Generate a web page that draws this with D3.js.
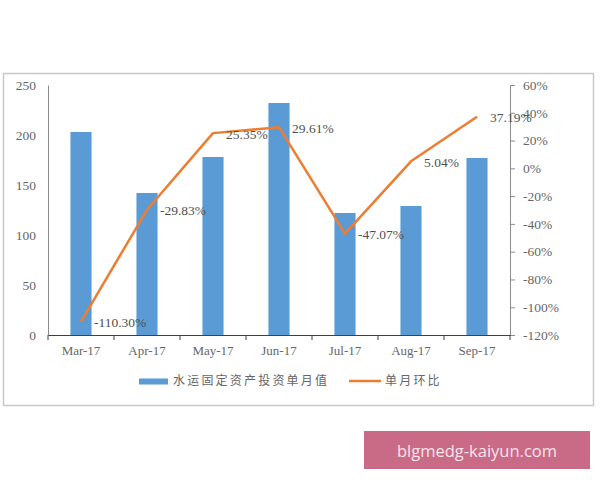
<!DOCTYPE html>
<html><head><meta charset="utf-8">
<script src="https://cdn.jsdelivr.net/npm/d3@7/dist/d3.min.js"></script>
<style>body{margin:0;background:#fff}svg{display:block}</style>
</head><body>
<svg id="c" width="600" height="480"></svg>
<script>
const categories = ["Mar-17","Apr-17","May-17","Jun-17","Jul-17","Aug-17","Sep-17"];
const barValues = [203, 142, 178, 232, 122, 129, 177];
const momValues = [-110.30, -29.83, 25.35, 29.61, -47.07, 5.04, 37.19];
const leftTicks = [0, 50, 100, 150, 200, 250];
const rightTicks = [-120, -100, -80, -60, -40, -20, 0, 20, 40, 60];
const legendLabels = ["水运固定资产投资单月值", "单月环比"];
const watermark = "blgmedg-kaiyun.com";

const svg = d3.select("#c");
const serif = "'Liberation Serif','DejaVu Serif',serif";
const pL = 48, pR = 510, pT = 85, pB = 335;

// frame
svg.append("rect").attr("x",3.5).attr("y",73.5).attr("width",590).attr("height",332)
  .attr("fill","#fff").attr("stroke","#c8c8c8").attr("stroke-width",1.5);

const x = d3.scaleBand().domain(categories).range([pL,pR]).paddingInner(0.68).paddingOuter(0.34);
const y = d3.scaleLinear().domain([0,250]).range([pB,pT]);
const y2 = d3.scaleLinear().domain([-120,60]).range([pB,pT]);

// left axis
const gl = svg.append("g").attr("transform",`translate(${pL},0)`)
  .call(d3.axisLeft(y).tickValues(leftTicks).tickSize(0).tickPadding(12));
gl.select(".domain").attr("stroke","#8c8c8c");
gl.selectAll("text").attr("font-family",serif).attr("font-size",13.5).attr("fill","#666");

// right axis
const gr = svg.append("g").attr("transform",`translate(${pR},0)`)
  .call(d3.axisRight(y2).tickValues(rightTicks).tickSize(5).tickPadding(8).tickFormat(d=>d+"%"));
gr.select(".domain").attr("stroke","#8c8c8c");
gr.selectAll(".tick line").attr("stroke","#8c8c8c");
gr.selectAll("text").attr("font-family",serif).attr("font-size",13.5).attr("fill","#666");

// bars
svg.append("g").selectAll("rect").data(barValues).join("rect")
  .attr("x",(d,i)=>x(categories[i])).attr("width",x.bandwidth())
  .attr("y",d=>y(d)).attr("height",d=>y(0)-y(d)).attr("fill","#5b9bd5");

// x axis
const gx = svg.append("g").attr("transform",`translate(0,${pB})`)
  .call(d3.axisBottom(x).tickSize(0).tickPadding(11));
gx.select(".domain").attr("stroke","#404040").attr("stroke-width",1.2);
gx.selectAll("text").attr("font-family",serif).attr("font-size",13).attr("fill","#666");
const step = x.step();
svg.append("g").selectAll("line").data(d3.range(categories.length+1)).join("line")
  .attr("x1",i=>pL+i*step).attr("x2",i=>pL+i*step)
  .attr("y1",pB).attr("y2",pB+5).attr("stroke","#404040");

// line
const cx = (d,i)=>x(categories[i])+x.bandwidth()/2;
svg.append("path").datum(momValues)
  .attr("d",d3.line().x(cx).y(d=>y2(d)))
  .attr("fill","none").attr("stroke","#ed7d31").attr("stroke-width",2.5).attr("stroke-linejoin","round");

// data labels
svg.append("g").selectAll("text").data(momValues).join("text")
  .attr("x",(d,i)=>cx(d,i)+13).attr("y",d=>y2(d)+1).attr("dy","0.35em")
  .attr("font-family",serif).attr("font-size",13.5).attr("fill","#505050")
  .text(d=>d.toFixed(2)+"%");

// legend
const lg = svg.append("g");
lg.append("rect").attr("x",139).attr("y",378.5).attr("width",29).attr("height",6).attr("fill","#5b9bd5");
lg.append("text").attr("x",173).attr("y",381).attr("dy","0.35em")
  .attr("font-family","'Noto Sans CJK SC',sans-serif").attr("font-size",12).attr("letter-spacing",2.2)
  .attr("fill","#666").text(legendLabels[0]);
lg.append("line").attr("x1",349).attr("x2",381).attr("y1",381).attr("y2",381)
  .attr("stroke","#ed7d31").attr("stroke-width",2.5);
lg.append("text").attr("x",385).attr("y",381).attr("dy","0.35em")
  .attr("font-family","'Noto Sans CJK SC',sans-serif").attr("font-size",12).attr("letter-spacing",2.2)
  .attr("fill","#666").text(legendLabels[1]);

// watermark
svg.append("rect").attr("x",364).attr("y",431).attr("width",226).attr("height",38).attr("fill","#c96a87");
svg.append("text").attr("x",477).attr("y",451).attr("dy","0.35em").attr("text-anchor","middle")
  .attr("font-family","'Open Sans','DejaVu Sans',sans-serif").attr("font-size",16.5).attr("fill","#f6e4ea")
  .text(watermark);
</script>
</body></html>
